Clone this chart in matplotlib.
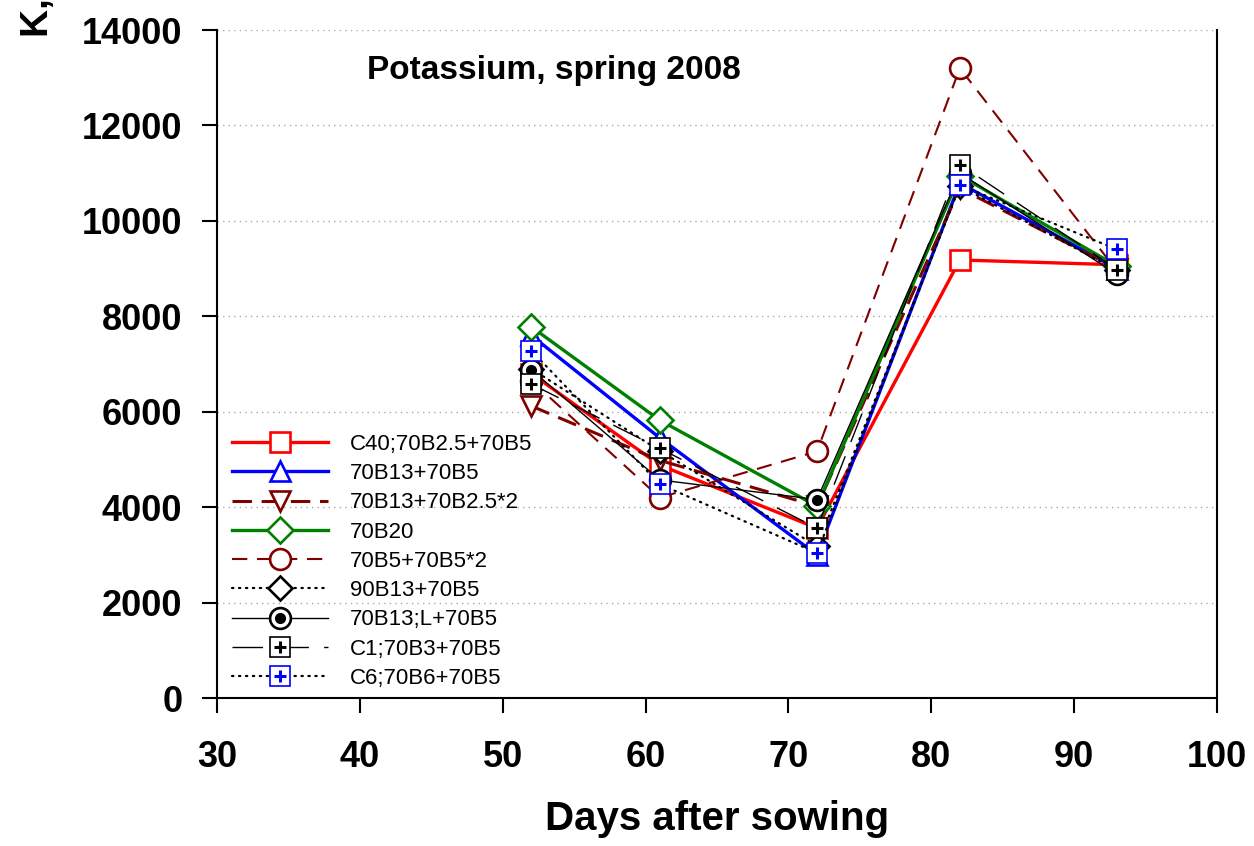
import numpy as np
import matplotlib
matplotlib.use("Agg")
from matplotlib import pyplot as plt

plt.rcParams["font.family"] = ["Liberation Sans", "DejaVu Sans"]
plt.rcParams["lines.scale_dashes"] = False

days = [52, 61, 72, 82, 93]

# potassium content per treatment
k_c40 = [6800, 4880, 3560, 9180, 9080]
k_70b13 = [7600, 5450, 3000, 10790, 9000]
k_70b13_25 = [6120, 4980, 4020, 10680, 9000]
k_70b20 = [7780, 5820, 4020, 10950, 9050]
k_70b5 = [6650, 4200, 5170, 13200, 8950]
k_90b13 = [6900, 5180, 3180, 10730, 8960]
k_70b13l = [6880, 4570, 4160, 11000, 8880]
k_c1 = [6580, 5230, 3560, 11180, 8980]
k_c6 = [7280, 4480, 3040, 10750, 9400]

labels = ["C40;70B2.5+70B5", "70B13+70B5", "70B13+70B2.5*2", "70B20",
          "70B5+70B5*2", "90B13+70B5", "70B13;L+70B5", "C1;70B3+70B5",
          "C6;70B6+70B5"]

W, H = 1254, 846
fig = plt.figure(figsize=(W / 100, H / 100), dpi=100)
ax = fig.add_axes([217 / W, 1 - 698 / H, 1000 / W, 668 / H])

ms = 14
mew = 1.9
handles = []

h, = ax.plot(days, k_c40, color="#ff0000", lw=2.4, marker="s", ms=ms,
             mfc="white", mec="#ff0000", mew=mew)
handles.append(h)
h, = ax.plot(days, k_70b13, color="#0000ff", lw=2.4, marker="^", ms=ms + 1,
             mfc="white", mec="#0000ff", mew=mew)
handles.append(h)
h, = ax.plot(days, k_70b13_25, color="#800000", lw=2.2, ls=(0, (14, 7)),
             marker="v", ms=ms + 1, mfc="white", mec="#800000", mew=mew)
handles.append(h)
h, = ax.plot(days, k_70b20, color="#008000", lw=2.4, marker="D", ms=ms - 1,
             mfc="white", mec="#008000", mew=mew)
handles.append(h)
h, = ax.plot(days, k_70b5, color="#800000", lw=1.5, ls=(0, (11, 7)),
             marker="o", ms=ms + 1, mfc="white", mec="#800000", mew=mew)
handles.append(h)
h, = ax.plot(days, k_90b13, color="black", lw=1.6, ls=(0, (1, 4)),
             dash_capstyle="round", marker="D", ms=ms - 2, mfc="white",
             mec="black", mew=mew)
handles.append(h)

h1, = ax.plot(days, k_70b13l, color="black", lw=1.0, marker="o", ms=ms + 1,
              mfc="white", mec="black", mew=mew)
h2, = ax.plot(days, k_70b13l, ls="none", marker="o", ms=7, color="black")
handles.append((h1, h2))

h1, = ax.plot(days, k_c1, color="black", lw=1.0, ls=(0, (22, 11)),
              marker="s", ms=ms, mfc="white", mec="black", mew=1.2)
h2, = ax.plot(days, k_c1, ls="none", marker="+", ms=8, mew=2.2, color="black")
handles.append((h1, h2))

h1, = ax.plot(days, k_c6, color="black", lw=1.6, ls=(0, (1, 4)),
              dash_capstyle="round", marker="s", ms=ms, mfc="white",
              mec="#0000ff", mew=1.2)
h2, = ax.plot(days, k_c6, ls="none", marker="+", ms=8, mew=2.2,
              color="#0000ff")
handles.append((h1, h2))

ax.set_xlim(30, 100)
ax.set_ylim(0, 14000)
ax.set_xticks(np.arange(30, 101, 10))
ax.set_yticks(np.arange(0, 14001, 2000))
ax.yaxis.grid(True, color="#aaaaaa", lw=1.0, ls=(0, (1, 3)))
ax.set_axisbelow(True)

for s in ["left", "bottom", "right"]:
    ax.spines[s].set_linewidth(1.5)
ax.spines["top"].set_visible(False)
ax.tick_params(direction="out", length=11, width=1.5, labelsize=26, pad=14)
ax.tick_params(axis="x", pad=19)
for t in ax.get_xticklabels() + ax.get_yticklabels():
    t.set_fontweight("bold")

ax.set_xlabel("Days after sowing", fontsize=29, fontweight="bold", labelpad=18)
fig.text(35 / W, 1 - 38 / H, "K, mg kg$^{-1}$", rotation=90, ha="center",
         va="bottom", fontsize=28, fontweight="bold")

ax.text(150 / 1000, 1 - 40 / 668, "Potassium, spring 2008",
        transform=ax.transAxes, fontsize=24, fontweight="bold",
        ha="left", va="center")

ax.legend(handles, labels, loc="upper left",
          bbox_to_anchor=(232 / W, 1 - 434 / H),
          bbox_transform=fig.transFigure, frameon=False, fontsize=16,
          numpoints=1, handlelength=4.3, handletextpad=1.0,
          labelspacing=0.37, borderaxespad=0, borderpad=0)

fig.savefig("out.png", dpi=100)
